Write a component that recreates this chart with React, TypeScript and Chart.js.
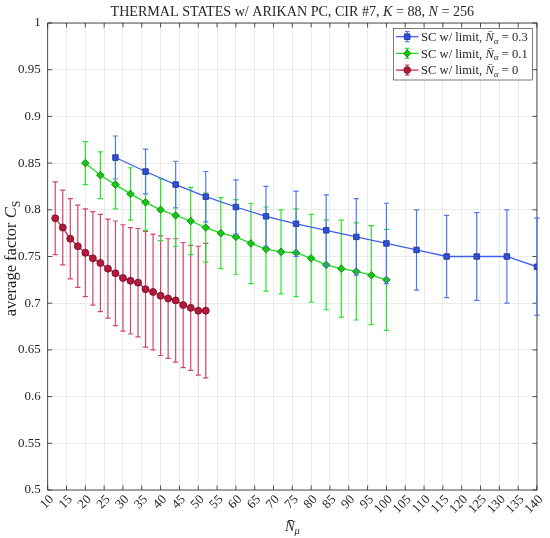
import React, { useEffect, useRef } from "react";
import { Chart, registerables } from "chart.js";

Chart.register(...registerables);

const FONT = '"Liberation Serif", "Times New Roman", serif';
const TEXT = "#262626";

// ---------- data ----------
const blueX = [28, 36, 44, 52, 60, 68, 76, 84, 92, 100, 108, 116, 124, 132, 140];
const blueY = [0.856, 0.841, 0.827, 0.814, 0.803, 0.793, 0.785, 0.778, 0.771, 0.764, 0.757, 0.75, 0.75, 0.75, 0.739];
const blueErr = [0.023, 0.024, 0.025, 0.027, 0.029, 0.032, 0.035, 0.038, 0.041, 0.043, 0.043, 0.044, 0.047, 0.05, 0.052];

const greenX = [20, 24, 28, 32, 36, 40, 44, 48, 52, 56, 60, 64, 68, 72, 76, 80, 84, 88, 92, 96, 100];
const greenY = [0.85, 0.837, 0.827, 0.817, 0.808, 0.8, 0.794, 0.788, 0.781, 0.775, 0.771, 0.764, 0.758, 0.755, 0.754, 0.748, 0.741, 0.737, 0.734, 0.73, 0.725];
const greenErr = [0.023, 0.025, 0.026, 0.028, 0.03, 0.033, 0.033, 0.036, 0.037, 0.038, 0.04, 0.043, 0.045, 0.045, 0.047, 0.047, 0.048, 0.052, 0.052, 0.053, 0.054];

const redX = [12, 14, 16, 18, 20, 22, 24, 26, 28, 30, 32, 34, 36, 38, 40, 42, 44, 46, 48, 50, 52];
const redY = [0.791, 0.781, 0.769, 0.761, 0.754, 0.748, 0.743, 0.737, 0.732, 0.727, 0.724, 0.722, 0.715, 0.712, 0.708, 0.705, 0.703, 0.698, 0.695, 0.692, 0.692];
const redErr = [0.039, 0.04, 0.043, 0.044, 0.047, 0.05, 0.052, 0.053, 0.056, 0.057, 0.057, 0.058, 0.062, 0.062, 0.064, 0.064, 0.066, 0.067, 0.067, 0.069, 0.072];

const alphaValues = ["0.3", "0.1", "0"];
const seriesPrefix = "SC w/ limit, ";
const titleParts = [
  { t: "THERMAL STATES w/ ARIKAN PC, CIR #7, " },
  { t: "K", i: true },
  { t: " = 88, " },
  { t: "N", i: true },
  { t: " = 256" },
];

const X_MIN = 10;
const X_MAX = 140;
const X_STEP = 5;
const Y_MIN = 0.5;
const Y_MAX = 1;
const Y_STEP = 0.05;

type Part = { t: string; i?: boolean; sub?: boolean };

const styles = [
  { line: "#3f60ea", bar: "#5676ee", fill: "#2f50d8", edge: "#1b2f8c", shape: "square" },
  { line: "#1fdc1f", bar: "#2ee02e", fill: "#12c812", edge: "#0b780b", shape: "diamond" },
  { line: "#cc2a52", bar: "#d2466a", fill: "#b8183c", edge: "#6a0c22", shape: "circle" },
];

function drawRich(ctx: CanvasRenderingContext2D, parts: Part[], x: number, y: number, size: number, align: "left" | "center") {
  const fontOf = (p: Part) => `${p.i ? "italic " : ""}${p.sub ? size * 0.72 : size}px ${FONT}`;
  let total = 0;
  const widths = parts.map((p) => {
    ctx.font = fontOf(p);
    const w = ctx.measureText(p.t).width;
    total += w;
    return w;
  });
  let cx = align === "center" ? x - total / 2 : x;
  ctx.textAlign = "left";
  ctx.textBaseline = "alphabetic";
  parts.forEach((p, k) => {
    ctx.font = fontOf(p);
    ctx.fillText(p.t, cx, p.sub ? y + size * 0.22 : y);
    cx += widths[k];
  });
}

function drawMarker(ctx: CanvasRenderingContext2D, shape: string, x: number, y: number, fill: string, edge: string) {
  ctx.beginPath();
  if (shape === "circle") ctx.arc(x, y, 3.4, 0, Math.PI * 2);
  else if (shape === "diamond") {
    ctx.moveTo(x, y - 3.8);
    ctx.lineTo(x + 3.6, y);
    ctx.lineTo(x, y + 3.8);
    ctx.lineTo(x - 3.6, y);
    ctx.closePath();
  } else ctx.rect(x - 2.8, y - 2.8, 5.6, 5.6);
  ctx.fillStyle = fill;
  ctx.fill();
  ctx.lineWidth = 0.8;
  ctx.strokeStyle = edge;
  ctx.stroke();
}

const errorBarPlugin = {
  id: "errorBars",
  beforeDatasetDraw(chart: any, args: any) {
    const ds = chart.data.datasets[args.index];
    const errs: number[] = ds.errors;
    if (!errs) return;
    const ys = chart.scales.y;
    const ctx = chart.ctx;
    ctx.save();
    ctx.strokeStyle = ds.barColor;
    ctx.lineWidth = 1.2;
    args.meta.data.forEach((pt: any, j: number) => {
      const v = ds.data[j].y;
      const top = ys.getPixelForValue(v + errs[j]);
      const bot = ys.getPixelForValue(v - errs[j]);
      ctx.beginPath();
      ctx.moveTo(pt.x, top);
      ctx.lineTo(pt.x, bot);
      ctx.moveTo(pt.x - 2.6, top);
      ctx.lineTo(pt.x + 2.6, top);
      ctx.moveTo(pt.x - 2.6, bot);
      ctx.lineTo(pt.x + 2.6, bot);
      ctx.stroke();
    });
    ctx.restore();
  },
};

const framePlugin = {
  id: "frame",
  beforeDatasetsDraw(chart: any) {
    const { ctx, chartArea: a, scales } = chart;
    ctx.save();
    ctx.strokeStyle = TEXT;
    ctx.lineWidth = 0.8;
    ctx.beginPath();
    scales.x.ticks.forEach((t: any) => {
      const px = scales.x.getPixelForValue(t.value);
      ctx.moveTo(px, a.bottom);
      ctx.lineTo(px, a.bottom - 4.5);
      ctx.moveTo(px, a.top);
      ctx.lineTo(px, a.top + 4.5);
    });
    scales.y.ticks.forEach((t: any) => {
      const py = scales.y.getPixelForValue(t.value);
      ctx.moveTo(a.left, py);
      ctx.lineTo(a.left + 4.5, py);
      ctx.moveTo(a.right, py);
      ctx.lineTo(a.right - 4.5, py);
    });
    ctx.stroke();
    ctx.strokeRect(a.left, a.top, a.right - a.left, a.bottom - a.top);
    ctx.restore();
  },
  afterDraw(chart: any) {
    const { ctx, chartArea: a } = chart;
    ctx.save();
    ctx.fillStyle = TEXT;
    // title
    drawRich(ctx, titleParts, (a.left + a.right) / 2, 15.5, 14.1, "center");
    // x label
    drawRich(ctx, [{ t: "N\u0304", i: true }, { t: "\u03bc", i: true, sub: true }], (a.left + a.right) / 2, 531, 14.5, "center");
    // y label
    ctx.save();
    ctx.translate(16, (a.top + a.bottom) / 2 + 2);
    ctx.rotate(-Math.PI / 2);
    drawRich(ctx, [{ t: "average factor " }, { t: "C", i: true }, { t: "S", sub: true }], 0, 0, 16.5, "center");
    ctx.restore();

    // legend
    const lx = 393.3, ly = 28.3, lw = 139.4, lh = 51.7;
    ctx.fillStyle = "#ffffff";
    ctx.fillRect(lx, ly, lw, lh);
    ctx.strokeStyle = TEXT;
    ctx.lineWidth = 0.6;
    ctx.strokeRect(lx, ly, lw, lh);
    alphaValues.forEach((av, k) => {
      const s = styles[k];
      const ry = 36.7 + k * 16.7;
      ctx.strokeStyle = s.line;
      ctx.lineWidth = 1.3;
      ctx.beginPath();
      ctx.moveTo(396, ry);
      ctx.lineTo(418.5, ry);
      ctx.stroke();
      ctx.strokeStyle = s.bar;
      ctx.lineWidth = 1.2;
      ctx.beginPath();
      ctx.moveTo(407.2, ry - 5);
      ctx.lineTo(407.2, ry + 5);
      ctx.moveTo(405, ry - 5);
      ctx.lineTo(409.4, ry - 5);
      ctx.moveTo(405, ry + 5);
      ctx.lineTo(409.4, ry + 5);
      ctx.stroke();
      drawMarker(ctx, s.shape, 407.2, ry, s.fill, s.edge);
      ctx.fillStyle = TEXT;
      drawRich(
        ctx,
        [{ t: seriesPrefix }, { t: "N\u0304", i: true }, { t: "\u03b1", i: true, sub: true }, { t: " = " + av }],
        421,
        ry + 4.3,
        12.6,
        "left"
      );
    });
    ctx.restore();
  },
};

export default function App() {
  const ref = useRef<HTMLCanvasElement | null>(null);

  useEffect(() => {
    document.body.style.margin = "0";
    if (!ref.current) return;
    const mk = (xs: number[], ys: number[]) => xs.map((x, i) => ({ x, y: ys[i] }));
    const series = [
      { xs: blueX, ys: blueY, err: blueErr },
      { xs: greenX, ys: greenY, err: greenErr },
      { xs: redX, ys: redY, err: redErr },
    ];
    const pointStyles = ["rect", "rectRot", "circle"];
    const radii = [3.9, 3.8, 3.5];
    const chart = new Chart(ref.current, {
      type: "line",
      data: {
        datasets: series.map((s, k) => ({
          label: seriesPrefix + "N\u0304\u03b1 = " + alphaValues[k],
          data: mk(s.xs, s.ys),
          errors: s.err,
          barColor: styles[k].bar,
          borderColor: styles[k].line,
          borderWidth: 1.3,
          backgroundColor: styles[k].fill,
          pointBackgroundColor: styles[k].fill,
          pointBorderColor: styles[k].edge,
          pointBorderWidth: 0.8,
          pointStyle: pointStyles[k],
          pointRadius: radii[k],
          tension: 0,
          fill: false,
        })) as any,
      },
      options: {
        animation: false,
        responsive: false,
        devicePixelRatio: 1,
        layout: { padding: { left: 0, right: 12.5, top: 23, bottom: 0 } },
        plugins: { legend: { display: false }, tooltip: { enabled: false }, title: { display: false } },
        scales: {
          x: {
            type: "linear",
            min: X_MIN,
            max: X_MAX,
            afterFit: (s: any) => {
              s.height = 48;
            },
            ticks: {
              stepSize: X_STEP,
              autoSkip: false,
              maxRotation: 45,
              minRotation: 45,
              padding: 2,
              labelOffset: 4,
              color: TEXT,
              font: { family: FONT, size: 13 },
            },
            grid: { color: "#e6e6e6", lineWidth: 0.8, drawTicks: false },
            border: { display: false },
          },
          y: {
            type: "linear",
            min: Y_MIN,
            max: Y_MAX,
            afterFit: (s: any) => {
              s.width = 47.7;
            },
            ticks: {
              stepSize: Y_STEP,
              padding: 7,
              color: TEXT,
              font: { family: FONT, size: 13 },
              callback: (v: any) => String(Number(Number(v).toFixed(2))),
            },
            grid: { color: "#e6e6e6", lineWidth: 0.8, drawTicks: false },
            border: { display: false },
          },
        },
      },
      plugins: [errorBarPlugin, framePlugin],
    });
    return () => chart.destroy();
  }, []);

  return <canvas ref={ref} width={550} height={538} style={{ display: "block", width: 550, height: 538 }} />;
}
